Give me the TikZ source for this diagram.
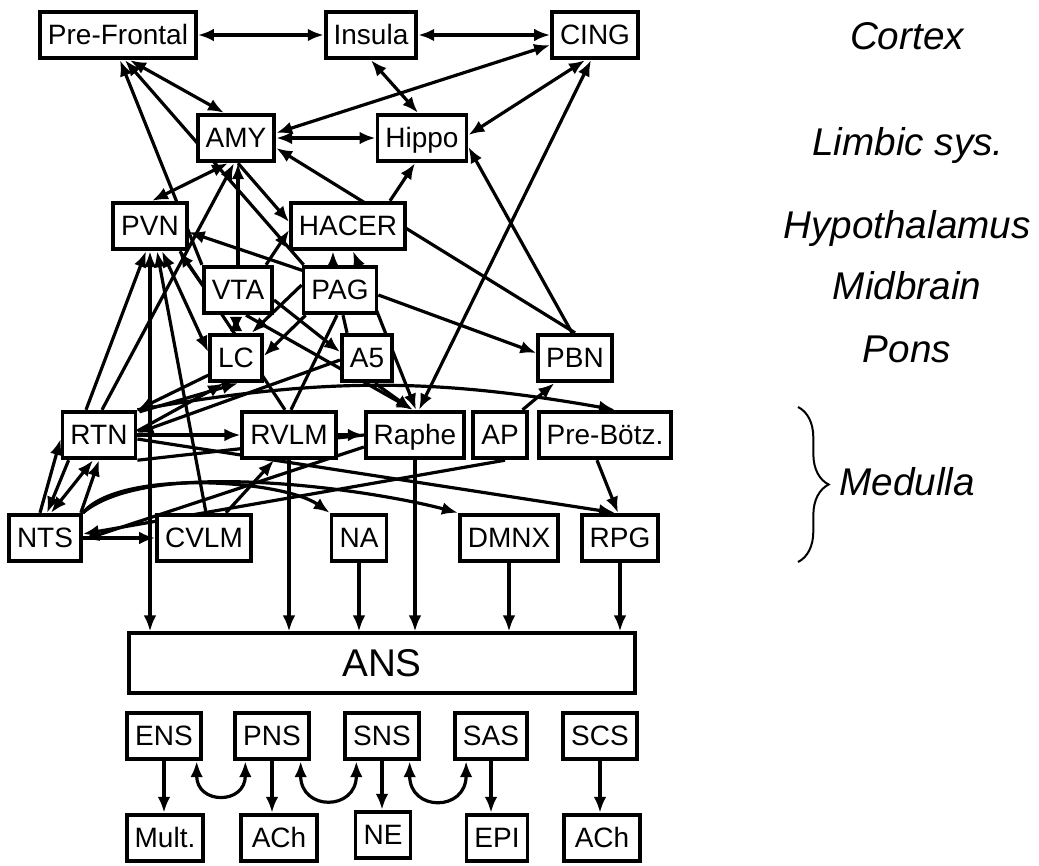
\documentclass[tikz,border=0pt]{standalone}
\usepackage{fontspec}
\setmainfont{Liberation Sans}
\usetikzlibrary{arrows.meta,calc,decorations.pathreplacing}
\pgfdeclarelayer{edges}
\pgfsetlayers{edges,main}
\tikzset{
  area/.style={draw, line width=2.8pt, fill=white, inner xsep=6pt,
    minimum height=35pt, text height=15pt, text depth=1pt,
    font=\fontsize{21}{24}\selectfont},
  tract/.style={line width=2.4pt},
  level/.style={font=\fontsize{29}{34}\selectfont\itshape},
  >={Latex[length=12pt,width=9.5pt]}
}

\begin{document}
\begin{tikzpicture}[x=0.75pt,y=-0.75pt]
  \useasboundingbox (0,0) rectangle (1039,865);

  % Cortex
  \node[area] (PF) at (118,35) {Pre-Frontal};
  \node[area] (Ins) at (371,35) {Insula};
  \node[area] (CING) at (595,35) {CING};
  % Limbic system
  \node[area] (AMY) at (236,138) {AMY};
  \node[area] (Hip) at (422,138) {Hippo};
  % Hypothalamus
  \node[area] (PVN) at (150,226) {PVN};
  \node[area] (HACER) at (348,226) {HACER};
  % Midbrain
  \node[area] (VTA) at (238,290) {VTA};
  \node[area] (PAG) at (340,290) {PAG};
  % Pons
  \node[area] (LC) at (236,358) {LC};
  \node[area] (A5) at (367,358) {A5};
  \node[area] (PBN) at (575,358) {PBN};
  % Medulla
  \node[area] (RTN) at (99,435) {RTN};
  \node[area] (RVLM) at (289,435) {RVLM};
  \node[area] (Raphe) at (415,435) {Raphe};
  \node[area] (AP) at (500,435) {AP};
  \node[area] (PreB) at (605,435) {Pre-Bötz.};
  \node[area] (NTS) at (45,538) {NTS};
  \node[area] (CVLM) at (204,538) {CVLM};
  \node[area] (NA) at (359,538) {NA};
  \node[area] (DMNX) at (509,538) {DMNX};
  \node[area] (RPG) at (620,538) {RPG};

  % Autonomic nervous system
  \node[area, minimum width=380pt, minimum height=44.5pt, text height=21pt,
    font=\fontsize{29}{34}\selectfont] (ANS) at (382,663) {ANS};
  \node[area] (ENS) at (164,736) {ENS};
  \node[area] (PNS) at (272,736) {PNS};
  \node[area] (SNS) at (382,736) {SNS};
  \node[area] (SAS) at (491,736) {SAS};
  \node[area] (SCS) at (600,736) {SCS};
  \node[area] (Mult) at (165,838) {Mult.};
  \node[area, minimum width=57pt] (AChP) at (279,838) {ACh};
  \node[area] (NE) at (383,835) {NE};
  \node[area] (EPI) at (497,838) {EPI};
  \node[area, minimum width=57pt] (AChS) at (602,838) {ACh};

  % Levels
  \node[level] (cortex) at (907,36) {Cortex};
  \node[level] (limbic) at (908,145) {Limbic sys.};
  \node[level] (hypo) at (907,228) {Hypothalamus};
  \node[level] (mid) at (907,286) {Midbrain};
  \node[level] (pons) at (907,349) {Pons};
  \node[level] (medulla) at (907,482) {Medulla};
  \draw[line width=1.5pt, decorate, decoration={brace, amplitude=23pt}]
    (798,407) -- (798,562);

  \begin{pgfonlayer}{edges}
    % cortex and limbic system
    \draw[tract,<->] (PF) -- (Ins);
    \draw[tract,<->] (Ins) -- (CING);
    \draw[tract,<->] ($(PF.south)+(12,0)$) -- ($(AMY.north)+(-12,0)$);
    \draw[tract,->] (VTA.north west) -- ($(PF.south)+(2,0)$);
    \draw[tract,->] ($(PAG.north west)+(2,0)$) -- ($(PF.south)+(7,0)$);
    \draw[tract,<->] (AMY) -- (Hip);
    \draw[tract,<->] ($(CING.west)+(0,10)$) -- ($(AMY.east)+(0,-5)$);
    \draw[tract,<->] (Ins.south) -- ($(Hip.north)+(-4,0)$);
    \draw[tract,<->] ($(CING.south)+(-10,0)$) -- ($(Hip.east)+(0,-3)$);
    \draw[tract,<->] ($(CING.south)+(-4,0)$) -- ($(Raphe.north)+(4,0)$);
    \draw[tract,->] ($(PBN.north)+(-3,0)$) -- ($(Hip.east)+(0,9)$);
    \draw[tract,->] (PBN.north) -- ($(AMY.east)+(0,10)$);
    \draw[tract,->] ($(HACER.north)+(42,0)$) -- ($(Hip.south)+(-7,0)$);
    \draw[tract,->] ($(AMY.south)+(2,0)$) -- ($(HACER.west)+(0,-4)$);
    \draw[tract,<->] ($(AMY.south)+(-8,0)$) -- ($(PVN.north)+(2,0)$);
    \draw[tract,->] (VTA.north) -- (VTA.north |- AMY.south);
    \draw[tract,->] ($(RTN.north)+(3,0)$) -- ($(AMY.south)+(-2,0)$);

    % hypothalamus and midbrain
    \draw[tract,->] ($(RTN.north)+(-13,0)$) -- ($(PVN.south)+(-4,0)$);
    \draw[tract,<->] (PVN.south) -- (PVN.south |- ANS.north);
    \draw[tract,->] ($(CVLM.north)+(2,0)$) -- ($(PVN.south)+(7,0)$);
    \draw[tract,<->] ($(PVN.south)+(12,0)$) -- ($(LC.west)+(0,-6)$);
    \draw[tract] ($(PVN.south)+(30,0)$) -- ($(RVLM.north)+(-4,0)$);
    \draw[tract,->] ($(PAG.north west)+(2,6)$) -- ($(PVN.east)+(0,6)$);
    \draw[tract,->] ($(VTA.west)+(0,-6)$) -- ($(PVN.south east)+(-10,0)$);
    \draw[tract,->] ($(VTA.north east)+(-8,0)$) -- ($(HACER.west)+(0,4)$);
    \draw[tract,<->] (LC.north |- VTA.south) -- (LC.north);
    \draw[tract,->] ($(PAG.west)+(0,-5)$) -- ($(LC.north east)+(-12,0)$);
    \draw[tract,->] ($(PAG.south west)+(4,0)$) -- ($(LC.east)+(0,-2)$);
    \draw[tract,->] ($(VTA.east)+(0,10)$) -- ($(A5.west)+(0,-6)$);
    \draw[tract,->] ($(VTA.south)+(8,0)$) -- ($(Raphe.north)+(-2,0)$);
    \draw[tract,->] ($(A5.south)+(8,0)$) -- ($(Raphe.north)+(-3,0)$);
    \draw[tract,<->] ($(HACER.south)+(5,0)$) -- ($(Raphe.north)+(1,0)$);
    \draw[tract,->] ($(PAG.north)+(-7,0)$) -- ($(HACER.south)+(-15,0)$);
    \draw[tract] ($(RVLM.north)+(2,0)$) -- ($(PAG.south)+(-3,0)$);
    \draw[tract] ($(PAG.south)+(3,0)$) -- ($(A5.north west)+(7,0)$);
    \draw[tract,->] ($(PAG.east)+(0,5)$) -- ($(PBN.west)+(0,-5)$);

    % pons and medulla
    \draw[tract,->] ($(LC.south west)+(0,-8)$) -- (RTN.north east);
    \draw[tract,->] ($(RTN.east)+(0,-4)$) -- ($(LC.south)+(-12,0)$);
    \draw[tract,->] ($(RTN.north east)+(2,2)$) -- ($(LC.south)+(2,0)$);
    \draw[tract,->] ($(A5.west)+(0,2)$) -- ($(RTN.east)+(0,-2)$);
    \draw[tract,->] (RTN.north east) to[out=10,in=170] ($(PreB.north)+(10,0)$);
    \draw[tract,->] ($(AP.north east)+(-6,0)$) -- ($(PBN.south west)+(18,0)$);
    \draw[tract,->] ($(PreB.south)+(-8,0)$) -- ($(RPG.north)+(-2,0)$);
    \draw[tract,->] (RTN) -- (RVLM);
    \draw[tract,->] (RVLM) -- (Raphe);
    \draw[tract,->] ($(RTN.east)+(0,4)$) -- ($(RPG.north)+(-5,0)$);
    \draw[tract] (RTN.south east) -- (Raphe.west);
    \draw[tract,->] ($(Raphe.west)+(0,12)$) -- ($(NTS.east)+(0,2)$);
    \draw[tract,->] ($(AP.south)+(5,0)$) -- ($(NTS.east)+(0,-4)$);
    \draw[tract,->] ($(CVLM.north)+(22,0)$) -- ($(RVLM.south)+(-15,0)$);
    \draw[tract,->] (NTS) -- (CVLM);
    \draw[tract,->] ($(NTS.north)+(-5,0)$) -- ($(RTN.west)+(0,4)$);
    \draw[tract,->] ($(RTN.south west)+(8,0)$) -- ($(NTS.north)+(2,0)$);
    \draw[tract,<->] ($(RTN.south)+(-6,0)$) -- ($(NTS.north)+(6,0)$);
    \draw[tract,->] ($(NTS.north east)+(-2,0)$) -- (RTN.south);
    \draw[tract,->] (NTS.north east) to[out=50,in=145,looseness=0.6] (NA.north west);
    \draw[tract,->] (NTS.north east) to[out=40,in=165,looseness=0.6] (DMNX.north west);

    % outflow to the ANS
    \draw[tract,->] (RVLM.south) -- (RVLM.south |- ANS.north);
    \draw[tract,->] (Raphe.south) -- (Raphe.south |- ANS.north);
    \draw[tract,->] (NA) -- (NA |- ANS.north);
    \draw[tract,->] (DMNX) -- (DMNX |- ANS.north);
    \draw[tract,->] (RPG) -- (RPG |- ANS.north);

    % divisions and transmitters
    \draw[tract,->] (ENS.south) -- (ENS.south |- Mult.north);
    \draw[tract,->] (PNS.south) -- (PNS.south |- AChP.north);
    \draw[tract,->] (SNS.south) -- (SNS.south |- NE.north);
    \draw[tract,->] (SAS.south) -- (SAS.south |- EPI.north);
    \draw[tract,->] (SCS.south) -- (SCS.south |- AChS.north);
    \draw[tract,<->] ($(ENS.south east)+(-6,0)$) to[out=-90,in=-90,looseness=2.3] ($(PNS.south west)+(12,0)$);
    \draw[tract,<->] ($(PNS.south east)+(-10,0)$) to[out=-90,in=-90,looseness=2.3] ($(SNS.south west)+(13,0)$);
    \draw[tract,<->] ($(SNS.south east)+(-11,0)$) to[out=-90,in=-90,looseness=2.3] ($(SAS.south west)+(13,0)$);
  \end{pgfonlayer}
\end{tikzpicture}
\end{document}
